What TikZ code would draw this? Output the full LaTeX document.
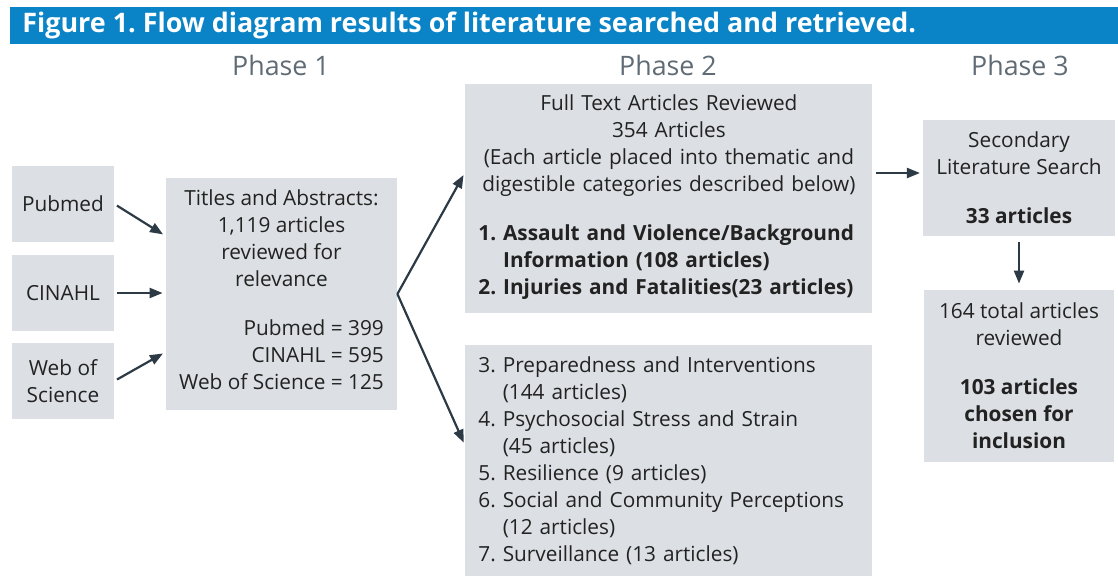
\documentclass[tikz,border=0pt]{standalone}
\usepackage{fontspec}
\setmainfont{Open Sans}
\usetikzlibrary{positioning, arrows.meta, calc}

\definecolor{bannerblue}{HTML}{0A84C6}
\definecolor{boxgray}{HTML}{DCDFE3}
\definecolor{arrowdark}{HTML}{2C3A46}
\definecolor{phasegray}{HTML}{5F6B75}
\definecolor{textdark}{HTML}{222222}
\frenchspacing

\begin{document}
\begin{tikzpicture}[
            x=0.5pt, y=-0.5pt,
            >={Triangle[length=6.5pt, width=5pt]},
            font=\fontsize{10.4}{13.5}\selectfont,
            source/.style={fill=boxgray, text=textdark, minimum width=51pt, minimum height=38pt, align=center, inner sep=0pt},
            panel/.style={fill=boxgray, text=textdark, inner xsep=6.5pt, inner ysep=5pt, align=center},
            phase/.style={text=phasegray, font=\fontsize{13.4}{16}\selectfont},
            link/.style={->, draw=arrowdark, line width=1.1pt, shorten <=1.5pt, shorten >=1.5pt},
        ]
            \useasboundingbox (0,0) rectangle (1118,577);

            % Title banner
            \fill[bannerblue] (10,7) rectangle (1118,44);
            \node[anchor=west, inner sep=0pt, text=white, font=\bfseries\fontsize{13.45}{16}\selectfont] (title) at (22,25.5)
                {Figure 1. Flow diagram results of literature searched and retrieved.};

            % Phase headings
            \node[phase] (ph-1) at (281,65) {Phase 1};
            \node[phase] (ph-2) at (668,65) {Phase 2};
            \node[phase] (ph-3) at (1020,65) {Phase 3};

            % Phase 1: databases and screening
            \node[source] (pubmed) at (63,204) {Pubmed};
            \node[source] (cinahl) at (63,293) {CINAHL};
            \node[source] (wos) at (63,381) {Web of\\Science};

            \node[panel, minimum width=115.5pt, minimum height=116pt] (titles) at (281.5,294)
                {Titles and Abstracts:\\1,119 articles\\reviewed for\\relevance\\[14pt]%
                 \begin{tabular}{@{}r@{}}Pubmed = 399\\CINAHL = 595\\Web of Science = 125\end{tabular}};

            % Phase 2: full text review
            \node[panel, anchor=north west, text width=190.5pt, minimum height=114.5pt] (full) at (465,84)
                {Full Text Articles Reviewed\\354 Articles\\(Each article placed into thematic and\\digestible categories described below)\par
                 \vspace{11.5pt}\raggedright\bfseries
                 \begin{tabular}{@{}l@{}}1. Assault and Violence/Background\\\hphantom{1. }Information (108 articles)\\
                 2. Injuries and Fatalities(23 articles)\end{tabular}\par};

            \node[panel, anchor=north west, text width=190.5pt, minimum height=115.5pt, align=left] (cats) at (465,345)
                {3. Preparedness and Interventions\\\hphantom{3. }(144 articles)\\%
                 4. Psychosocial Stress and Strain\\\hphantom{4. }(45 articles)\\%
                 5. Resilience (9 articles)\\%
                 6. Social and Community Perceptions\\\hphantom{6. }(12 articles)\\%
                 7. Surveillance (13 articles)};

            % Phase 3: secondary search and final set
            \node[panel, minimum width=95pt, minimum height=58pt] (second) at (1019,178)
                {Secondary\\Literature Search\\[11pt]\textbf{33 articles}};
            \node[panel, minimum width=95pt, minimum height=86pt] (final) at (1019,376)
                {164 total articles\\reviewed\\[11pt]\textbf{103 articles}\\\textbf{chosen for}\\\textbf{inclusion}};

            % Connectors
            \draw[link] (pubmed.east) -- ([yshift=29pt]titles.west);
            \draw[link] (cinahl.east) -- (cinahl.east -| titles.west);
            \draw[link] (wos.east) -- ([yshift=-29pt]titles.west);

            \coordinate (fork) at (titles.east);
            \draw[link, shorten <=0pt] (fork) -- ([yshift=13.25pt]full.west);
            \draw[link, shorten <=0pt] (fork) -- ([yshift=7.75pt]cats.west);

            \draw[link] ([yshift=2.5pt]second.west -| full.east) -- ([yshift=2.5pt]second.west);
            \draw[link, shorten <=3pt, shorten >=3pt] (second) -- (final);
        \end{tikzpicture}
\end{document}
